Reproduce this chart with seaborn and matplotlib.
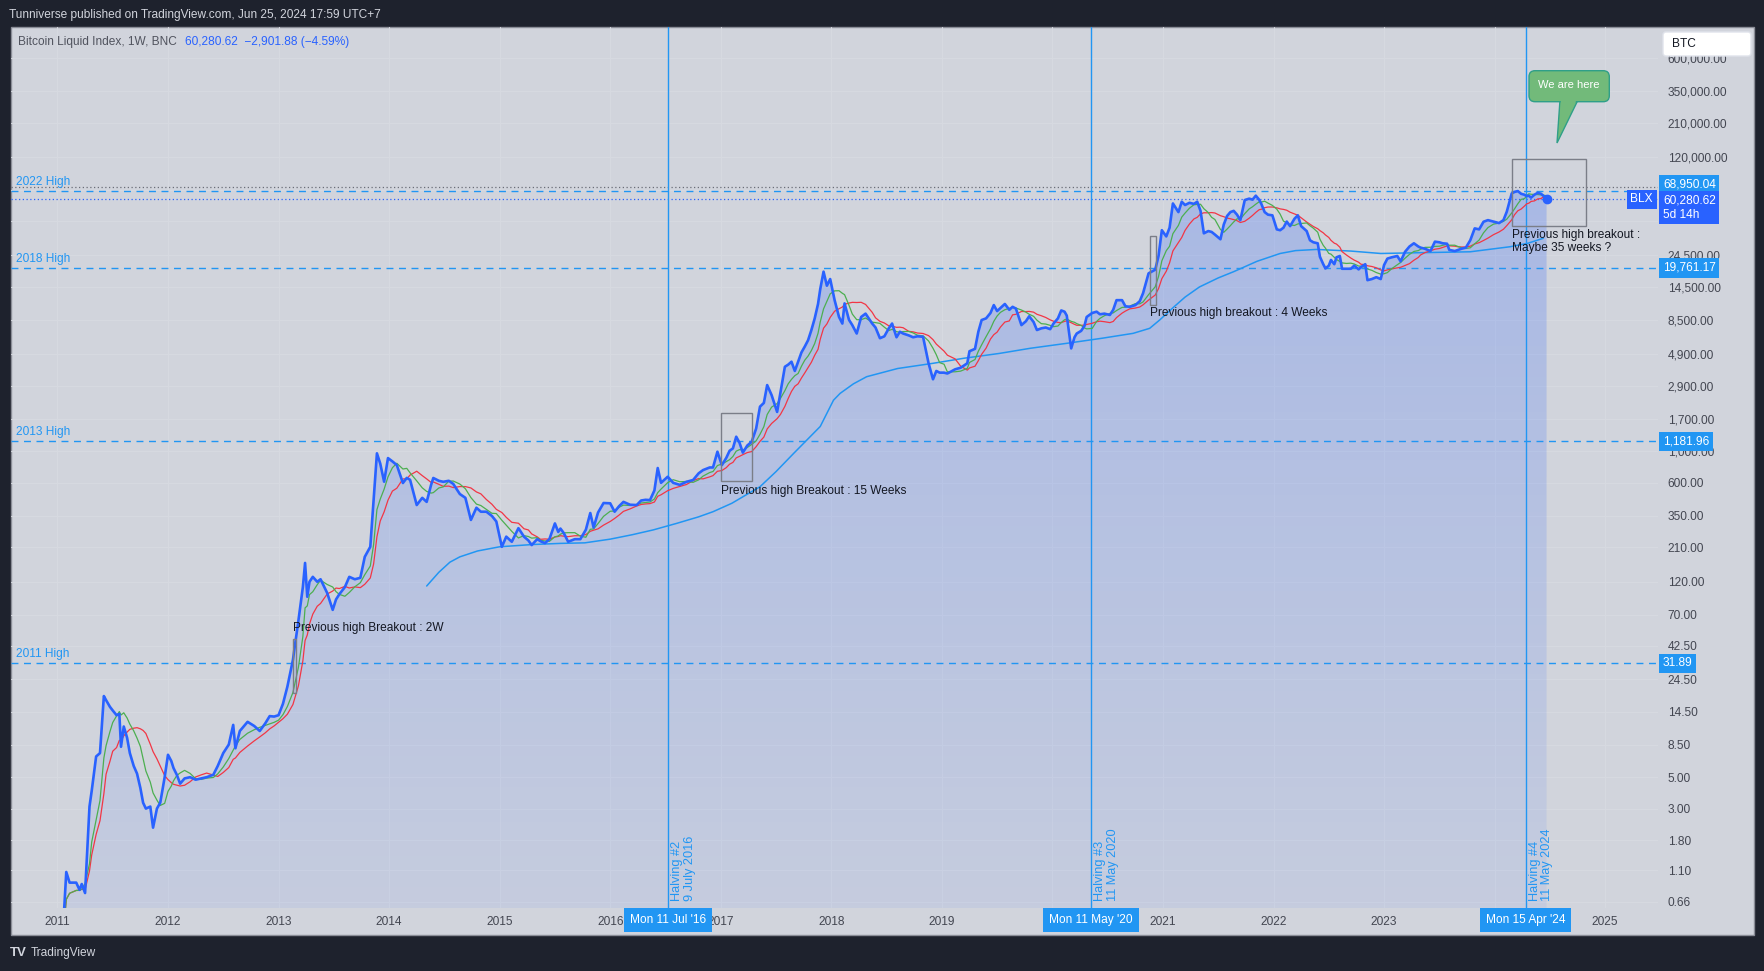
import numpy as np
import pandas as pd
import matplotlib
matplotlib.use("Agg")
import matplotlib.pyplot as plt
import matplotlib.patches as mpatches
from matplotlib.transforms import IdentityTransform, blended_transform_factory
from matplotlib.ticker import NullLocator
import seaborn as sns

W, H = 1765, 971

# weekly closes (decimal year -> price)
close_t = [
    2011.04, 2011.08, 2011.11, 2011.17, 2011.20, 2011.22, 2011.25, 2011.29, 2011.31, 2011.35, 2011.385, 2011.42, 2011.44, 2011.475, 2011.50, 2011.535, 2011.56, 2011.575, 2011.60, 2011.63, 2011.655, 2011.69, 2011.72, 2011.75, 2011.775, 2011.80, 2011.84, 2011.865, 2011.90, 2011.93, 2011.97,
    2012.00, 2012.03, 2012.05, 2012.08, 2012.11, 2012.15, 2012.20, 2012.25, 2012.30, 2012.35, 2012.41, 2012.45, 2012.50, 2012.55, 2012.59, 2012.61, 2012.65, 2012.72, 2012.78, 2012.83, 2012.88, 2012.92, 2012.96,
    2013.00, 2013.04, 2013.08, 2013.13, 2013.18, 2013.22, 2013.24, 2013.26, 2013.28, 2013.31, 2013.35, 2013.38, 2013.44, 2013.49, 2013.52, 2013.55, 2013.60, 2013.64, 2013.69, 2013.74, 2013.78, 2013.83, 2013.86, 2013.89, 2013.92, 2013.955, 2013.99,
    2014.03, 2014.07, 2014.125, 2014.16, 2014.19, 2014.25, 2014.30, 2014.34, 2014.38, 2014.40, 2014.45, 2014.49, 2014.54, 2014.58, 2014.64, 2014.69, 2014.74, 2014.79, 2014.83, 2014.88, 2014.93, 2014.97,
    2015.02, 2015.06, 2015.11, 2015.17, 2015.22, 2015.26, 2015.29, 2015.34, 2015.37, 2015.41, 2015.45, 2015.50, 2015.53, 2015.55, 2015.58, 2015.62, 2015.68, 2015.73, 2015.78, 2015.82, 2015.85, 2015.89, 2015.94,
    2016.00, 2016.04, 2016.08, 2016.12, 2016.18, 2016.24, 2016.28, 2016.32, 2016.36, 2016.40, 2016.43, 2016.46, 2016.52, 2016.57, 2016.63, 2016.69, 2016.75, 2016.80, 2016.84, 2016.90, 2016.93, 2016.97,
    2017.01, 2017.05, 2017.08, 2017.11, 2017.14, 2017.17, 2017.20, 2017.24, 2017.28, 2017.32, 2017.355, 2017.39, 2017.42, 2017.46, 2017.51, 2017.54, 2017.58, 2017.61, 2017.64, 2017.67, 2017.70, 2017.73, 2017.76, 2017.79, 2017.82, 2017.85, 2017.88, 2017.90, 2017.93, 2017.96, 2017.99,
    2018.03, 2018.07, 2018.10, 2018.12, 2018.16, 2018.19, 2018.23, 2018.27, 2018.31, 2018.37, 2018.40, 2018.44, 2018.48, 2018.52, 2018.55, 2018.59, 2018.62, 2018.65, 2018.70, 2018.74, 2018.78, 2018.83, 2018.88, 2018.92, 2018.95, 2018.98,
    2019.02, 2019.05, 2019.12, 2019.17, 2019.23, 2019.25, 2019.30, 2019.33, 2019.36, 2019.40, 2019.44, 2019.47, 2019.50, 2019.53, 2019.57, 2019.61, 2019.64, 2019.67, 2019.72, 2019.76, 2019.79, 2019.83, 2019.86, 2019.90, 2019.94, 2019.98,
    2020.01, 2020.05, 2020.08, 2020.11, 2020.13, 2020.17, 2020.20, 2020.22, 2020.26, 2020.29, 2020.31, 2020.36, 2020.40, 2020.43, 2020.47, 2020.52, 2020.55, 2020.58, 2020.63, 2020.66, 2020.70, 2020.75, 2020.79, 2020.82, 2020.87, 2020.93, 2020.96, 2020.99,
    2021.03, 2021.06, 2021.09, 2021.14, 2021.17, 2021.20, 2021.24, 2021.28, 2021.31, 2021.34, 2021.37, 2021.41, 2021.44, 2021.47, 2021.52, 2021.55, 2021.58, 2021.61, 2021.64, 2021.67, 2021.70, 2021.74, 2021.78, 2021.81, 2021.84, 2021.87, 2021.89, 2021.92, 2021.95, 2021.99,
    2022.03, 2022.06, 2022.09, 2022.12, 2022.15, 2022.19, 2022.22, 2022.25, 2022.30, 2022.33, 2022.36, 2022.40, 2022.42, 2022.45, 2022.47, 2022.50, 2022.52, 2022.55, 2022.57, 2022.60, 2022.62, 2022.66, 2022.70, 2022.73, 2022.77, 2022.79, 2022.83, 2022.85, 2022.89, 2022.93, 2022.97,
    2023.00, 2023.03, 2023.07, 2023.12, 2023.15, 2023.19, 2023.23, 2023.27, 2023.31, 2023.33, 2023.37, 2023.42, 2023.46, 2023.50, 2023.53, 2023.57, 2023.59, 2023.64, 2023.67, 2023.70, 2023.74, 2023.78, 2023.82, 2023.86, 2023.90, 2023.94, 2023.99,
    2024.04, 2024.08, 2024.11, 2024.155, 2024.18, 2024.21, 2024.24, 2024.27, 2024.29, 2024.31, 2024.33, 2024.36, 2024.39, 2024.42, 2024.44, 2024.47,
]
close_v = [
    0.30, 1.07, 0.90, 0.90, 0.80, 0.88, 0.76, 3.1, 4.0, 7.0, 7.4, 18.7, 17.5, 15.7, 14.8, 13.7, 14.0, 8.2, 11.4, 9.5, 7.4, 6.0, 5.3, 4.2, 3.3, 3.0, 3.1, 2.2, 3.0, 3.3, 5.0,
    7.2, 6.5, 5.8, 5.2, 4.5, 4.9, 5.0, 4.8, 4.9, 5.0, 5.2, 6.0, 7.4, 8.5, 11.7, 8.0, 10.6, 12.3, 11.5, 10.6, 12.0, 13.5, 13.4,
    13.7, 16.5, 21.8, 33.6, 64, 110, 163, 94, 120, 130, 120, 125, 100, 76, 90, 98, 110, 130, 125, 128, 180, 212, 453, 969, 820, 611, 897,
    850, 800, 598, 650, 630, 418, 470, 440, 580, 649, 620, 610, 620, 590, 500, 470, 328, 400, 375, 375, 350, 320,
    212, 250, 230, 287, 250, 235, 218, 240, 232, 225, 240, 310, 270, 285, 265, 230, 240, 240, 280, 367, 290, 370, 432,
    430, 375, 410, 440, 420, 418, 450, 455, 453, 530, 763, 600, 662, 600, 580, 610, 628, 700, 738, 770, 770, 995,
    800, 900, 1010, 1050, 1270, 1150, 980, 1100, 1170, 1450, 2070, 2200, 2940, 2500, 1900, 2600, 3960, 4100, 4300, 3700, 4300, 5000, 5500, 6100, 7200, 8700, 11000, 14000, 18600, 14800, 16500,
    11700, 8900, 8000, 11100, 8500, 7800, 6800, 8900, 9400, 8000, 7500, 6300, 6500, 7400, 8000, 6400, 7000, 6800, 6600, 6400, 6500, 6450, 4190, 3230, 3700, 3600,
    3600, 3550, 3800, 3900, 4190, 5100, 5300, 7000, 8470, 8700, 9500, 10800, 9800, 10300, 11000, 10000, 10500, 10200, 7800, 8300, 9000, 8200, 7200, 7400, 7500, 7300,
    8000, 8700, 9900, 9700, 9100, 5340, 6400, 6800, 7100, 7700, 8900, 9500, 9700, 9300, 9400, 9200, 10000, 11700, 11700, 10600, 10500, 10800, 11500, 13100, 18100, 19200, 24000, 36500,
    33000, 38000, 56400, 49000, 58000, 55000, 57000, 56000, 58000, 50000, 34700, 36000, 35500, 34000, 31500, 40000, 46000, 49000, 50000, 47000, 43000, 59600, 61000, 60000, 64000, 60000, 56000, 49000, 47000, 46500,
    37000, 36500, 38000, 42000, 39000, 44000, 46500, 39000, 36000, 31000, 30000, 29500, 23700, 21000, 19600, 20500, 22500, 21000, 23500, 24000, 19500, 19500, 19500, 20500, 19300, 20000, 21000, 16200, 16500, 17000, 16500,
    20700, 23000, 23500, 24000, 22000, 25700, 28000, 29500, 28000, 27500, 27000, 26000, 30300, 30000, 29500, 29300, 26500, 26000, 26500, 27000, 27500, 31000, 37600, 37000, 41900, 43000, 42000,
    41000, 43000, 49300, 66400, 68000, 69000, 66000, 65000, 63500, 64000, 62000, 65000, 67000, 66000, 64000, 60280.62,
]
assert len(close_t) == len(close_v)

# 200 week moving average
ma200_t = [2014.34, 2014.45, 2014.55, 2014.64, 2014.80, 2015.00, 2015.30, 2015.55, 2015.77, 2016.00, 2016.20, 2016.39, 2016.60,
           2016.80, 2016.93, 2017.10, 2017.355, 2017.50, 2017.66, 2017.80, 2017.90, 2018.02, 2018.08, 2018.20, 2018.32, 2018.60,
           2018.92, 2019.20, 2019.52, 2019.80, 2020.13, 2020.45, 2020.73, 2020.88, 2020.97, 2021.10, 2021.20, 2021.33, 2021.50,
           2021.64, 2021.85, 2022.06, 2022.20, 2022.39, 2022.70, 2022.97, 2023.30, 2023.78, 2024.14, 2024.30, 2024.44]
ma200_v = [112, 140, 165, 180, 198, 212, 220, 224, 226, 240, 258, 279, 310,
           345, 375, 430, 563, 720, 969, 1250, 1500, 2300, 2570, 3000, 3370, 3850,
           4190, 4550, 4920, 5350, 5800, 6300, 6820, 7400, 8470, 10500, 12300, 14500, 16800,
           18600, 22000, 25000, 26200, 26700, 26000, 25000, 25300, 25700, 27900, 29500, 32000]

y_ticks = [0.66, 1.1, 1.8, 3, 5, 8.5, 14.5, 24.5, 42.5, 70, 120, 210, 350, 600, 1000, 1700, 2900,
           4900, 8500, 14500, 24500, 42500, 70000, 120000, 210000, 350000, 600000]
hidden_ticks = [42500, 70000]  # covered by the price labels
years = list(range(2011, 2026))
hidden_years = [2020, 2024]  # covered by the date boxes

high_names = ["2011 High", "2013 High", "2018 High", "2022 High"]
high_vals = [31.89, 1181.96, 19761.17, 68950.04]
ath_line = 73800
last_price = 60280.62

halving_t = [2016.52, 2020.35, 2024.28]
halving_dates = ["Mon 11 Jul '16", "Mon 11 May '20", "Mon 15 Apr '24"]
halving_notes = ["Halving #2\n9 July 2016", "Halving #3\n11 May 2020", "Halving #4\n11 May 2024"]

# breakout boxes: (t0, t1, low, high) and their notes
box_t0 = [2013.13, 2017.00, 2020.88, 2024.16]
box_t1 = [2013.155, 2017.286, 2020.94, 2024.83]
box_lo = [19.7, 618, 10900, 38900]
box_hi = [47.3, 1857, 33200, 117000]
note_text = ["Previous high Breakout : 2W", "Previous high Breakout : 15 Weeks",
             "Previous high breakout : 4 Weeks", "Previous high breakout :\nMaybe 35 weeks ?"]
note_t = [2013.13, 2017.0, 2020.88, 2024.16]
note_v = [56.6, 528, 9440, 30300]

BG = "#d1d4dc"
DARK = "#1e222d"
BLUE = "#2962ff"
LBLUE = "#2196f3"
TXT = "#434651"
FS = 8.6

sns.set_style("white")
plt.rcParams["font.family"] = ["Liberation Sans", "DejaVu Sans"]
plt.rcParams["font.size"] = FS

df = pd.DataFrame({"t": close_t, "close": close_v})
df["date"] = pd.Timestamp("2011-01-01") + pd.to_timedelta((df["t"] - 2011) * 365.25, unit="D")
s = df.set_index("date")["close"]
df["fast"] = s.rolling("70D").mean().values
df["slow"] = s.rolling("140D").mean().values

fig = plt.figure(figsize=(W / 100, H / 100), dpi=100, facecolor=DARK)
fig.add_artist(mpatches.Rectangle((11, H - 935), 1754 - 11, 935 - 27, transform=IdentityTransform(),
                                  fc=BG, ec="#8a8d97", lw=1, zorder=-10))
ax = fig.add_axes([11 / W, 1 - 908 / H, (1658 - 11) / W, (908 - 27) / H])
ax.set_facecolor("none")
for sp in ax.spines.values():
    sp.set_visible(False)
ax.set_yscale("log")

xlo, xhi = 2010.58, 2025.478
ylo, yhi = 10 ** -0.225, 10 ** 5.9976

# gradient area under the price
poly = ax.fill_between(df["t"], df["close"], ylo, facecolor="none", edgecolor="none")
grad = np.zeros((256, 1, 4))
grad[..., 0] = 41 / 255
grad[..., 1] = 98 / 255
grad[..., 2] = 1.0
grad[:, 0, 3] = np.linspace(0.28, 0.07, 256)
im = ax.imshow(grad, extent=[0, 1, 0, 1], transform=ax.transAxes, aspect="auto", origin="upper", zorder=1)
im.set_clip_path(poly.get_paths()[0], ax.transData)

sns.lineplot(x=ma200_t, y=ma200_v, ax=ax, color=LBLUE, linewidth=1.1, estimator=None, zorder=3)
sns.lineplot(x=df["t"], y=df["slow"], ax=ax, color="#f23645", linewidth=0.9, estimator=None, zorder=3)
sns.lineplot(x=df["t"], y=df["fast"], ax=ax, color="#4caf50", linewidth=0.9, estimator=None, zorder=3)
sns.lineplot(x=df["t"], y=df["close"], ax=ax, color=BLUE, linewidth=1.9, estimator=None, zorder=4)
ax.plot(close_t[-1], close_v[-1], "o", ms=6, color=BLUE, zorder=5)

ax.set_xlim(xlo, xhi)
ax.set_ylim(ylo, yhi)
ax.set_xlabel("")
ax.set_ylabel("")

ax.set_yticks(y_ticks)
ax.set_yticklabels(["" if v in hidden_ticks else f"{v:,.2f}" for v in y_ticks])
ax.yaxis.set_minor_locator(NullLocator())
ax.yaxis.tick_right()
ax.set_xticks(years)
ax.set_xticklabels(["" if y in hidden_years else str(y) for y in years])
ax.tick_params(axis="y", length=0, pad=7, labelsize=FS, labelcolor=TXT)
ax.tick_params(axis="x", length=0, pad=6, labelsize=FS, labelcolor=TXT)
ax.grid(True, color="#d6d9e0", lw=0.8)
ax.set_axisbelow(True)

ytrans = blended_transform_factory(ax.transAxes, ax.transData)
xtrans = blended_transform_factory(ax.transData, ax.transAxes)

# previous highs
for name, v in zip(high_names, high_vals):
    ax.axhline(v, color=LBLUE, ls=(0, (5, 4)), lw=1, zorder=2)
    ax.annotate(name, xy=(0, v), xycoords=ytrans, xytext=(5, 3), textcoords="offset pixels",
                va="bottom", ha="left", color=LBLUE, fontsize=FS)
    lift = 7 if v == max(high_vals) else 0  # pushed up by the last-price label
    ax.annotate(f"{v:,.2f}", xy=(1, v), xycoords=ytrans, xytext=(5, lift), textcoords="offset pixels",
                va="center", ha="left", color="white", fontsize=FS, annotation_clip=False,
                bbox=dict(boxstyle="square,pad=0.3", fc=LBLUE, ec="none"), zorder=6)
ax.axhline(ath_line, color="#6a6d78", ls=(0, (1, 2)), lw=0.9, zorder=2)
ax.axhline(last_price, color=BLUE, ls=(0, (1, 2)), lw=0.9, zorder=2)
ax.annotate(f"{last_price:,.2f}\n5d 14h", xy=(1, last_price), xycoords=ytrans, xytext=(5, 5),
            textcoords="offset pixels", va="top", ha="left", color="white", fontsize=FS,
            linespacing=1.25, annotation_clip=False,
            bbox=dict(boxstyle="square,pad=0.3", fc=BLUE, ec="none"), zorder=7)
ax.annotate("BLX", xy=(1, last_price), xycoords=ytrans, xytext=(-5, 0), textcoords="offset pixels",
            va="center", ha="right", color="white", fontsize=FS, annotation_clip=False,
            bbox=dict(boxstyle="square,pad=0.3", fc=BLUE, ec="none"), zorder=7)

# halvings
for t, d, note in zip(halving_t, halving_dates, halving_notes):
    ax.axvline(t, color=LBLUE, lw=1, zorder=2)
    ax.annotate(note, xy=(t, 0), xycoords=xtrans, xytext=(3, 7), textcoords="offset pixels",
                rotation=90, ha="left", va="bottom", color=LBLUE, fontsize=9.2, linespacing=1.1)
    ax.annotate(d, xy=(t, 0), xycoords=xtrans, xytext=(0, -12), textcoords="offset pixels",
                ha="center", va="center", color="white", fontsize=FS, annotation_clip=False,
                bbox=dict(boxstyle="square,pad=0.5", fc=LBLUE, ec="none"), zorder=7)

# breakout boxes and notes
for t0, t1, lo, hi in zip(box_t0, box_t1, box_lo, box_hi):
    ax.add_patch(mpatches.Rectangle((t0, lo), t1 - t0, hi - lo, fill=False, ec="#7b7e88", lw=1, zorder=5))
for txt, t, v in zip(note_text, note_t, note_v):
    ax.text(t, v, txt, ha="left", va="center", color="#131722", fontsize=FS, zorder=6, linespacing=1.05)

# header, legend, footer
fig.text(9 / W, 1 - 15 / H, "Tunniverse published on TradingView.com, Jun 25, 2024 17:59 UTC+7",
         color="#d1d4dc", va="center", fontsize=FS)
fig.text(18 / W, 1 - 42 / H, "Bitcoin Liquid Index, 1W, BNC", color="#50535e", va="center", fontsize=FS)
fig.text(185 / W, 1 - 42 / H, "60,280.62  \u22122,901.88 (\u22124.59%)", color=BLUE, va="center", fontsize=FS)
fig.text(10 / W, 1 - 953 / H, "TV", color="#d1d4dc", va="center", fontsize=9.5, fontweight="bold")
fig.text(31 / W, 1 - 953 / H, "TradingView", color="#d1d4dc", va="center", fontsize=FS)

# symbol box
fig.add_artist(mpatches.FancyBboxPatch((1663, H - 56), 88, 24, boxstyle="round,pad=0,rounding_size=3",
                                       transform=IdentityTransform(), fc="white", ec="#e0e3eb", lw=1, zorder=8))
fig.text(1672 / W, 1 - 44 / H, "BTC", color="#131722", va="center", fontsize=FS, zorder=9)

# "We are here" callout
green, green_edge = "#72ba7a", "#2f9f88"
fig.add_artist(mpatches.Polygon([(1560, H - 100), (1578, H - 100), (1557, H - 143)], closed=True,
                                transform=IdentityTransform(), fc=green, ec=green_edge, lw=1, zorder=8))
fig.add_artist(mpatches.FancyBboxPatch((1529, H - 101.7), 80.3, 31, boxstyle="round,pad=0,rounding_size=6",
                                       transform=IdentityTransform(), fc=green, ec=green_edge, lw=1, zorder=8))
fig.add_artist(mpatches.Polygon([(1561, H - 99), (1577, H - 99), (1559, H - 136)], closed=True,
                                transform=IdentityTransform(), fc=green, ec="none", zorder=8))
fig.text(1569 / W, 1 - 85 / H, "We are here", color="white", ha="center", va="center", fontsize=8, zorder=9)

fig.savefig("out.png", dpi=100, facecolor=DARK)
